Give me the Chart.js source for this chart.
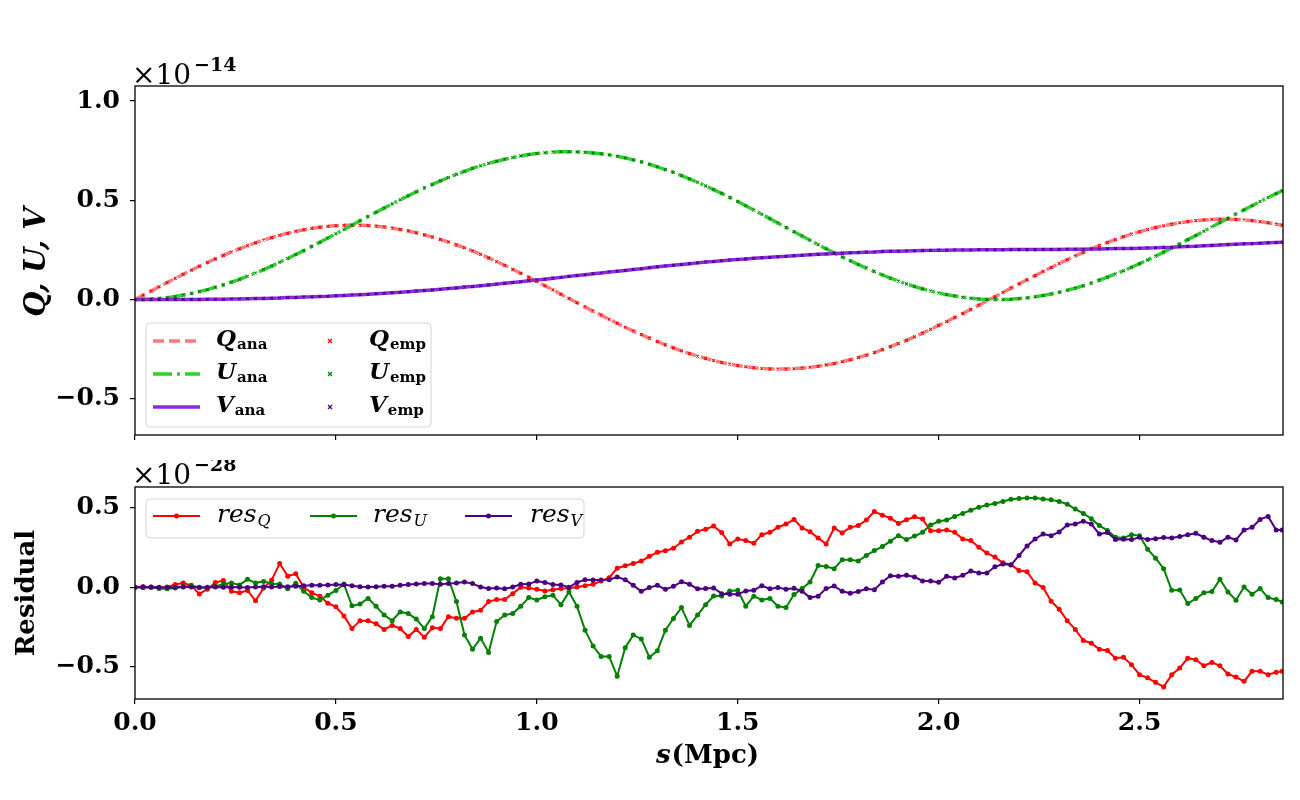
<!DOCTYPE html>
<html>
<head>
<meta charset="utf-8">
<script src="https://cdn.jsdelivr.net/npm/chart.js@4.4.1/dist/chart.umd.min.js"></script>
<style>
  body { margin: 0; background: #fff; }
  #wrap { position: relative; width: 1300px; height: 800px; }
  #top { position: absolute; left: 0; top: 0; }
  #bot { position: absolute; left: 0; top: 460px; }
</style>
</head>
<body>
<div id="wrap">
  <canvas id="top" width="1300" height="460" style="width:1300px;height:460px"></canvas>
  <canvas id="bot" width="1300" height="340" style="width:1300px;height:340px"></canvas>
</div>
<script>
// s in Mpc, shared by both panels
var s = [0, 0.02, 0.04, 0.06, 0.08, 0.1, 0.12, 0.14, 0.16, 0.18,
         0.2, 0.22, 0.24, 0.26, 0.28, 0.3, 0.32, 0.34, 0.36, 0.38,
         0.4, 0.42, 0.44, 0.46, 0.48, 0.5, 0.52, 0.54, 0.56, 0.58,
         0.6, 0.62, 0.64, 0.66, 0.68, 0.7, 0.72, 0.74, 0.76, 0.78,
         0.8, 0.82, 0.84, 0.86, 0.88, 0.9, 0.92, 0.94, 0.96, 0.98,
         1.0, 1.02, 1.04, 1.06, 1.08, 1.1, 1.12, 1.14, 1.16, 1.18,
         1.2, 1.22, 1.24, 1.26, 1.28, 1.3, 1.32, 1.34, 1.36, 1.38,
         1.4, 1.42, 1.44, 1.46, 1.48, 1.5, 1.52, 1.54, 1.56, 1.58,
         1.6, 1.62, 1.64, 1.66, 1.68, 1.7, 1.72, 1.74, 1.76, 1.78,
         1.8, 1.82, 1.84, 1.86, 1.88, 1.9, 1.92, 1.94, 1.96, 1.98,
         2.0, 2.02, 2.04, 2.06, 2.08, 2.1, 2.12, 2.14, 2.16, 2.18,
         2.2, 2.22, 2.24, 2.26, 2.28, 2.3, 2.32, 2.34, 2.36, 2.38,
         2.4, 2.42, 2.44, 2.46, 2.48, 2.5, 2.52, 2.54, 2.56, 2.58,
         2.6, 2.62, 2.64, 2.66, 2.68, 2.7, 2.72, 2.74, 2.76, 2.78,
         2.8, 2.82, 2.84, 2.855];

// top panel, units of 1e-14
var qAna = [0, 0.022, 0.043, 0.065, 0.086, 0.107, 0.128, 0.148, 0.168, 0.187,
            0.205, 0.223, 0.240, 0.256, 0.272, 0.286, 0.300, 0.312, 0.324, 0.334,
            0.344, 0.352, 0.359, 0.364, 0.369, 0.372, 0.374, 0.375, 0.375, 0.373,
            0.370, 0.366, 0.360, 0.353, 0.346, 0.337, 0.326, 0.315, 0.303, 0.290,
            0.275, 0.261, 0.245, 0.228, 0.210, 0.192, 0.173, 0.153, 0.133, 0.112,
            0.091, 0.070, 0.049, 0.027, 0.006, -0.016, -0.037, -0.058, -0.078, -0.099,
            -0.119, -0.139, -0.158, -0.176, -0.194, -0.211, -0.228, -0.243, -0.258, -0.272,
            -0.285, -0.296, -0.307, -0.317, -0.325, -0.332, -0.338, -0.343, -0.347, -0.349,
            -0.350, -0.350, -0.348, -0.345, -0.341, -0.336, -0.329, -0.322, -0.313, -0.303,
            -0.292, -0.280, -0.267, -0.252, -0.237, -0.221, -0.205, -0.187, -0.169, -0.150,
            -0.130, -0.111, -0.090, -0.070, -0.049, -0.028, -0.007, 0.014, 0.036, 0.058,
            0.079, 0.100, 0.121, 0.142, 0.162, 0.182, 0.201, 0.220, 0.238, 0.255,
            0.272, 0.288, 0.302, 0.317, 0.330, 0.342, 0.353, 0.363, 0.372, 0.380,
            0.387, 0.393, 0.398, 0.401, 0.404, 0.405, 0.405, 0.404, 0.401, 0.398,
            0.393, 0.387, 0.380, 0.375];
var uAna = [0, 0.001, 0.003, 0.006, 0.010, 0.016, 0.023, 0.031, 0.040, 0.050,
            0.062, 0.074, 0.088, 0.102, 0.118, 0.134, 0.151, 0.169, 0.188, 0.207,
            0.227, 0.247, 0.268, 0.289, 0.310, 0.332, 0.353, 0.375, 0.397, 0.419,
            0.440, 0.461, 0.482, 0.503, 0.523, 0.543, 0.562, 0.580, 0.598, 0.615,
            0.631, 0.646, 0.661, 0.674, 0.686, 0.697, 0.707, 0.716, 0.724, 0.731,
            0.736, 0.740, 0.743, 0.745, 0.745, 0.744, 0.742, 0.739, 0.735, 0.729,
            0.722, 0.714, 0.704, 0.694, 0.682, 0.669, 0.655, 0.641, 0.625, 0.608,
            0.591, 0.573, 0.554, 0.535, 0.515, 0.494, 0.473, 0.451, 0.430, 0.408,
            0.386, 0.364, 0.342, 0.320, 0.299, 0.277, 0.256, 0.236, 0.215, 0.196,
            0.177, 0.159, 0.141, 0.124, 0.108, 0.093, 0.079, 0.066, 0.054, 0.043,
            0.033, 0.025, 0.018, 0.012, 0.007, 0.003, 0.001, 0.000, 0.000, 0.002,
            0.005, 0.009, 0.014, 0.021, 0.028, 0.037, 0.047, 0.058, 0.070, 0.083,
            0.098, 0.113, 0.129, 0.145, 0.163, 0.181, 0.200, 0.219, 0.239, 0.260,
            0.281, 0.302, 0.323, 0.344, 0.366, 0.388, 0.409, 0.431, 0.452, 0.473,
            0.494, 0.514, 0.534, 0.548];
var vAna = [0, 0, 0, 0, 0.001, 0.001, 0.001, 0.001, 0.001, 0.002,
            0.002, 0.002, 0.003, 0.003, 0.004, 0.005, 0.006, 0.007, 0.008, 0.010,
            0.011, 0.013, 0.014, 0.016, 0.017, 0.019, 0.021, 0.023, 0.025, 0.027,
            0.030, 0.032, 0.035, 0.037, 0.040, 0.043, 0.046, 0.049, 0.052, 0.056,
            0.059, 0.063, 0.066, 0.070, 0.074, 0.078, 0.082, 0.086, 0.090, 0.095,
            0.099, 0.103, 0.108, 0.112, 0.117, 0.121, 0.125, 0.130, 0.134, 0.139,
            0.143, 0.147, 0.152, 0.156, 0.161, 0.165, 0.169, 0.173, 0.177, 0.181,
            0.185, 0.189, 0.192, 0.196, 0.199, 0.202, 0.205, 0.208, 0.211, 0.213,
            0.216, 0.218, 0.221, 0.223, 0.226, 0.228, 0.230, 0.232, 0.234, 0.236,
            0.237, 0.239, 0.240, 0.242, 0.243, 0.244, 0.245, 0.246, 0.247, 0.248,
            0.249, 0.249, 0.250, 0.250, 0.250, 0.251, 0.251, 0.251, 0.251, 0.252,
            0.252, 0.252, 0.252, 0.253, 0.253, 0.253, 0.254, 0.254, 0.254, 0.255,
            0.255, 0.256, 0.257, 0.257, 0.258, 0.259, 0.260, 0.261, 0.263, 0.264,
            0.266, 0.268, 0.269, 0.271, 0.273, 0.275, 0.277, 0.279, 0.281, 0.282,
            0.284, 0.286, 0.288, 0.289];
// empirical values sit on the analytic ones at this scale (residuals ~1e-28)
var qEmp = qAna, uEmp = uAna, vEmp = vAna;

// bottom panel, units of 1e-28
var resQ = [0, 0.005, 0, -0.004, 0.002, 0.018, 0.027, 0.012, -0.042, -0.012,
            0.03, 0.042, -0.025, -0.035, -0.02, -0.085, -0.005, 0.045, 0.15, 0.07,
            0.085, 0.0, -0.035, -0.056, -0.1, -0.123, -0.18, -0.26, -0.21, -0.21,
            -0.23, -0.265, -0.24, -0.26, -0.31, -0.265, -0.315, -0.255, -0.26, -0.185,
            -0.195, -0.195, -0.155, -0.145, -0.09, -0.077, -0.077, -0.04, 0.0, -0.004,
            -0.012, -0.023, -0.015, -0.008, -0.006, 0.002, 0.01, 0.019, 0.04, 0.06,
            0.12, 0.135, 0.15, 0.165, 0.195, 0.22, 0.23, 0.245, 0.285, 0.315,
            0.352, 0.365, 0.385, 0.345, 0.273, 0.304, 0.294, 0.277, 0.331, 0.346,
            0.377, 0.398, 0.427, 0.373, 0.35, 0.31, 0.273, 0.373, 0.342, 0.377,
            0.388, 0.423, 0.477, 0.454, 0.435, 0.402, 0.425, 0.444, 0.429, 0.356,
            0.356, 0.36, 0.346, 0.304, 0.294, 0.252, 0.215, 0.19, 0.154, 0.142,
            0.106, 0.098, 0.027, -0.002, -0.088, -0.138, -0.21, -0.265, -0.335, -0.352,
            -0.39, -0.398, -0.446, -0.44, -0.488, -0.55, -0.57, -0.598, -0.627, -0.55,
            -0.508, -0.446, -0.456, -0.494, -0.473, -0.494, -0.546, -0.565, -0.592, -0.529,
            -0.529, -0.55, -0.535, -0.529];
var resU = [0, -0.002, 0, -0.008, -0.01, -0.005, 0.004, 0.01, 0, -0.005,
            0.005, 0.02, 0.027, 0.015, 0.05, 0.027, 0.037, 0.022, 0.02, -0.01,
            0.025, -0.025, -0.065, -0.08, -0.05, -0.02, 0.02, -0.117, -0.105, -0.07,
            -0.12, -0.175, -0.21, -0.155, -0.165, -0.2, -0.26, -0.185, 0.054, 0.054,
            -0.09, -0.3, -0.39, -0.32, -0.41, -0.216, -0.175, -0.165, -0.12, -0.065,
            -0.08, -0.06, -0.05, -0.11, -0.03, -0.12, -0.27, -0.37, -0.435, -0.435,
            -0.56, -0.38, -0.3, -0.325, -0.44, -0.4, -0.27, -0.196, -0.128, -0.24,
            -0.175, -0.11, -0.055, -0.055, -0.023, -0.019, -0.119, -0.056, -0.08, -0.07,
            -0.119, -0.127, -0.046, -0.008, 0.033, 0.137, 0.131, 0.117, 0.173, 0.173,
            0.165, 0.2, 0.231, 0.256, 0.29, 0.325, 0.3, 0.322, 0.346, 0.392,
            0.415, 0.423, 0.446, 0.465, 0.485, 0.504, 0.517, 0.527, 0.54, 0.554,
            0.558, 0.5625, 0.5625, 0.556, 0.55, 0.54, 0.523, 0.492, 0.465, 0.431,
            0.388, 0.358, 0.315, 0.31, 0.331, 0.325, 0.24, 0.183, 0.117, -0.019,
            -0.017, -0.102, -0.071, -0.035, -0.027, 0.05, -0.029, -0.081, 0.002, -0.044,
            -0.008, -0.065, -0.077, -0.092];
var resV = [0, 0, 0.001, 0, -0.002, 0, 0.002, 0.001, -0.002, 0,
            0.002, 0, 0.001, 0, -0.001, 0.002, 0.003, 0.002, 0.005, 0.004,
            0.006, 0.01, 0.012, 0.013, 0.014, 0.017, 0.016, 0.01, 0.004, 0.002,
            0.004, 0.006, 0.006, 0.012, 0.017, 0.02, 0.023, 0.023, 0.019, 0.023,
            0.027, 0.033, 0.023, 0.002, -0.008, -0.004, -0.01, 0.002, 0.019, 0.02,
            0.04, 0.03, 0.017, 0.015, 0, 0.03, 0.048, 0.046, 0.046, 0.048,
            0.065, 0.048, 0.012, -0.025, -0.002, 0.012, -0.013, 0.006, 0.035, 0.019,
            -0.01, -0.008, -0.004, -0.04, -0.044, -0.044, -0.023, -0.019, 0.01, -0.01,
            -0.002, -0.012, -0.006, -0.025, -0.065, -0.056, -0.008, 0.008, -0.025, -0.038,
            -0.027, -0.01, -0.015, 0.033, 0.073, 0.069, 0.075, 0.065, 0.04, 0.04,
            0.031, 0.069, 0.058, 0.075, 0.102, 0.09, 0.09, 0.129, 0.146, 0.14,
            0.2, 0.26, 0.304, 0.335, 0.325, 0.348, 0.392, 0.398, 0.415, 0.398,
            0.335, 0.344, 0.3, 0.302, 0.3, 0.315, 0.3, 0.306, 0.313, 0.31,
            0.319, 0.331, 0.34, 0.315, 0.294, 0.283, 0.315, 0.298, 0.36, 0.377,
            0.427, 0.446, 0.36, 0.36];

// ticks
var xTicks = [0, 0.5, 1.0, 1.5, 2.0, 2.5];
var yTicksTop = [-0.5, 0, 0.5, 1.0];
var yTicksRes = [-0.5, 0, 0.5];

var SERIF = '"DejaVu Serif", "Liberation Serif", serif';
Chart.defaults.color = '#000';
Chart.defaults.font.family = SERIF;

function pts(xs, ys) {
    return xs.map(function (x, i) { return { x: x, y: ys[i] }; });
}
function fmt(v) {
    return (v < 0 ? '\u2212' : '') + Math.abs(v).toFixed(1);
}
function setTicks(list) {
    return function (scale) { scale.ticks = list.map(function (v) { return { value: v }; }); };
}

// full box around the plot area, like matplotlib spines
var framePlugin = {
    id: 'frame',
    afterDraw: function (chart) {
        var a = chart.chartArea, c = chart.ctx;
        c.save();
        c.strokeStyle = '#000';
        c.lineWidth = 1.3;
        c.strokeRect(a.left, a.top, a.right - a.left, a.bottom - a.top);
        c.restore();
    }
};

function sciLabel(c, x, y, exp) {
    c.font = '28px ' + SERIF;
    c.textAlign = 'left';
    c.textBaseline = 'alphabetic';
    c.fillText('\u00d710', x, y);
    var w = c.measureText('\u00d710').width;
    c.font = 'bold 19px ' + SERIF;
    c.fillText(exp, x + w + 3, y - 13);
}
function subLabel(c, x, y, main, mainFont, sub, subFont, dy) {
    c.textAlign = 'left';
    c.textBaseline = 'alphabetic';
    c.font = mainFont;
    c.fillText(main, x, y);
    var w = c.measureText(main).width;
    c.font = subFont;
    c.fillText(sub, x + w + 1, y + dy);
}
function legendBox(c, x, y, w, h) {
    c.save();
    c.fillStyle = 'rgba(255,255,255,0.8)';
    c.strokeStyle = '#d3d3d3';
    c.lineWidth = 1;
    c.beginPath();
    c.roundRect(x, y, w, h, 4);
    c.fill();
    c.stroke();
    c.restore();
}
function crossMark(c, x, y, col) {
    c.save();
    c.strokeStyle = col;
    c.lineWidth = 1.3;
    c.beginPath();
    c.moveTo(x - 2, y - 2); c.lineTo(x + 2, y + 2);
    c.moveTo(x - 2, y + 2); c.lineTo(x + 2, y - 2);
    c.stroke();
    c.restore();
}

var topText = {
    id: 'topText',
    afterDraw: function (chart) {
        var c = chart.ctx;
        c.save();
        c.fillStyle = '#000';
        sciLabel(c, 132, 84, '\u221214');

        // y title
        c.save();
        c.translate(37, 262);
        c.rotate(-Math.PI / 2);
        c.font = 'italic bold 29px ' + SERIF;
        c.textAlign = 'center';
        c.textBaseline = 'middle';
        c.fillText('Q, U, V', 0, 0);
        c.restore();

        // legend
        legendBox(c, 146, 323, 285, 104);
        var rows = [
            { main: 'Q', col: '#f08080', dash: [11, 5], emp: '#ff0000', y: 341 },
            { main: 'U', col: '#32cd32', dash: [19, 5, 3, 5], emp: '#008000', y: 374 },
            { main: 'V', col: '#8a2be2', dash: [], emp: '#4b0082', y: 407 }
        ];
        rows.forEach(function (r) {
            c.save();
            c.strokeStyle = r.col;
            c.lineWidth = 3.5;
            c.setLineDash(r.dash);
            c.beginPath();
            c.moveTo(153, r.y); c.lineTo(200, r.y);
            c.stroke();
            c.restore();
            c.fillStyle = '#000';
            subLabel(c, 216, r.y + 5, r.main, 'italic bold 23px ' + SERIF, 'ana', 'bold 15px ' + SERIF, 3);
            crossMark(c, 330, r.y, r.emp);
            c.fillStyle = '#000';
            subLabel(c, 369, r.y + 5, r.main, 'italic bold 23px ' + SERIF, 'emp', 'bold 15px ' + SERIF, 3);
        });
        c.restore();
    }
};

var botText = {
    id: 'botText',
    afterDraw: function (chart) {
        var c = chart.ctx;
        c.save();
        c.fillStyle = '#000';
        sciLabel(c, 132, 24, '\u221228');

        c.save();
        c.translate(27, 133);
        c.rotate(-Math.PI / 2);
        c.font = 'bold 26px ' + SERIF;
        c.textAlign = 'center';
        c.textBaseline = 'middle';
        c.fillText('Residual', 0, 0);
        c.restore();

        // x title s(Mpc)
        c.textBaseline = 'alphabetic';
        c.font = 'italic bold 26px ' + SERIF;
        var w1 = c.measureText('s').width;
        c.font = 'bold 26px ' + SERIF;
        var w2 = c.measureText('(Mpc)').width;
        var x0 = 707 - (w1 + w2) / 2;
        c.textAlign = 'left';
        c.font = 'italic bold 26px ' + SERIF;
        c.fillText('s', x0, 303);
        c.font = 'bold 26px ' + SERIF;
        c.fillText('(Mpc)', x0 + w1 + 1, 303);

        // legend
        legendBox(c, 146, 39, 438, 39);
        var items = [
            { sub: 'Q', col: '#ff0000', x: 153, tx: 217 },
            { sub: 'U', col: '#008000', x: 310, tx: 373 },
            { sub: 'V', col: '#4b0082', x: 465, tx: 530 }
        ];
        items.forEach(function (it) {
            c.save();
            c.strokeStyle = it.col;
            c.fillStyle = it.col;
            c.lineWidth = 2;
            c.beginPath();
            c.moveTo(it.x, 56); c.lineTo(it.x + 47, 56);
            c.stroke();
            c.beginPath();
            c.arc(it.x + 23.5, 56, 2.5, 0, Math.PI * 2);
            c.fill();
            c.restore();
            c.fillStyle = '#000';
            subLabel(c, it.tx, 62, 'res', 'italic 25px ' + SERIF, it.sub, 'italic 16px ' + SERIF, 4);
        });
        c.restore();
    }
};

var tickFont = { family: SERIF, size: 25, weight: 'bold' };
var gridOpts = { drawOnChartArea: false, drawTicks: true, tickLength: 5, color: '#000', lineWidth: 1.2 };

function lineSet(ys, col, dash, ord) {
    return {
        data: pts(s, ys), borderColor: col, borderWidth: 3.5, borderDash: dash,
        pointRadius: 0, tension: 0, fill: false, order: ord
    };
}
function empSet(ys, col, ord) {
    return {
        data: pts(s, ys), showLine: false, pointStyle: 'crossRot', pointRadius: 2,
        pointBorderColor: col, pointBorderWidth: 1.1, borderColor: col, order: ord
    };
}
function resSet(ys, col, ord) {
    return {
        data: pts(s, ys), borderColor: col, backgroundColor: col, borderWidth: 2,
        pointRadius: 2.5, pointBorderWidth: 0, pointBackgroundColor: col, tension: 0, order: ord
    };
}

new Chart(document.getElementById('top'), {
    type: 'line',
    data: {
        datasets: [
            lineSet(qAna, '#f08080', [11, 5], 6),
            lineSet(uAna, '#32cd32', [19, 5, 3, 5], 5),
            lineSet(vAna, '#8a2be2', [], 4),
            empSet(qEmp, '#ff0000', 3),
            empSet(uEmp, '#008000', 2),
            empSet(vEmp, '#4b0082', 1)
        ]
    },
    options: {
        responsive: false,
        animation: false,
        devicePixelRatio: 1,
        layout: { padding: { left: 0, right: 17, top: 86, bottom: 0 } },
        plugins: { legend: { display: false }, tooltip: { enabled: false } },
        scales: {
            x: {
                type: 'linear', min: 0, max: 2.857,
                afterBuildTicks: setTicks(xTicks),
                afterFit: function (sc) { sc.height = 22; },
                grid: gridOpts, border: { display: false },
                ticks: { display: false }
            },
            y: {
                min: -0.682, max: 1.076,
                afterBuildTicks: setTicks(yTicksTop),
                afterFit: function (sc) { sc.width = 135; },
                grid: gridOpts, border: { display: false },
                ticks: { font: tickFont, padding: 10, callback: fmt }
            }
        }
    },
    plugins: [framePlugin, topText]
});

new Chart(document.getElementById('bot'), {
    type: 'line',
    data: {
        datasets: [
            resSet(resQ, '#ff0000', 3),
            resSet(resU, '#008000', 2),
            resSet(resV, '#4b0082', 1)
        ]
    },
    options: {
        responsive: false,
        animation: false,
        devicePixelRatio: 1,
        layout: { padding: { left: 0, right: 17, top: 27, bottom: 0 } },
        plugins: { legend: { display: false }, tooltip: { enabled: false } },
        scales: {
            x: {
                type: 'linear', min: 0, max: 2.857,
                afterBuildTicks: setTicks(xTicks),
                afterFit: function (sc) { sc.height = 101; },
                grid: gridOpts, border: { display: false },
                ticks: { font: tickFont, padding: 4, callback: fmt, maxRotation: 0 }
            },
            y: {
                min: -0.703, max: 0.631,
                afterBuildTicks: setTicks(yTicksRes),
                afterFit: function (sc) { sc.width = 135; },
                grid: gridOpts, border: { display: false },
                ticks: { font: tickFont, padding: 10, callback: fmt }
            }
        }
    },
    plugins: [framePlugin, botText]
});
</script>
</body>
</html>
